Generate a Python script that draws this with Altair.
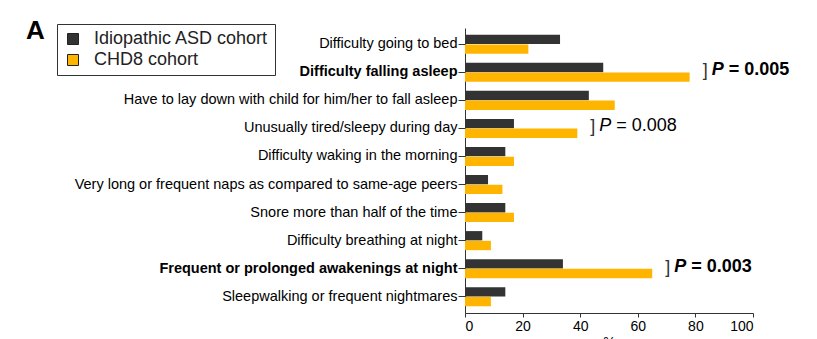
import altair as alt
import pandas as pd

categories = [
    "Difficulty going to bed",
    "Difficulty falling asleep",
    "Have to lay down with child for him/her to fall asleep",
    "Unusually tired/sleepy during day",
    "Difficulty waking in the morning",
    "Very long or frequent naps as compared to same-age peers",
    "Snore more than half of the time",
    "Difficulty breathing at night",
    "Frequent or prolonged awakenings at night",
    "Sleepwalking or frequent nightmares",
]
idiopathic = [33, 48, 43, 17, 14, 8, 14, 6, 34, 14]
chd8 = [22, 78, 52, 39, 17, 13, 17, 9, 65, 9]
cohorts = ["Idiopathic ASD cohort", "CHD8 cohort"]
colors = ["#333333", "#FFB400"]

bold_labels = ["Difficulty falling asleep", "Frequent or prolonged awakenings at night"]

ann_categories = ["Difficulty falling asleep", "Unusually tired/sleepy during day",
                  "Frequent or prolonged awakenings at night"]
ann_values = ["= 0.005", "= 0.008", "= 0.003"]
ann_bold = [True, False, True]

rows = []
for c, a, b in zip(categories, idiopathic, chd8):
    rows.append({"category": c, "cohort": cohorts[0], "value": a})
    rows.append({"category": c, "cohort": cohorts[1], "value": b})
df = pd.DataFrame(rows)

ann = pd.DataFrame({
    "category": ann_categories,
    "text": ann_values,
    "bold": ann_bold,
    "x": [chd8[categories.index(c)] for c in ann_categories],
})

FONT = "Liberation Sans"

yscale = alt.Scale(domain=categories, paddingInner=0.32, paddingOuter=0.24)
xscale = alt.Scale(domain=[0, 100])

bold_test = " || ".join("datum.value == '%s'" % b for b in bold_labels)

bars = alt.Chart(df).mark_bar().encode(
    y=alt.Y("category:N", scale=yscale, sort=categories,
            axis=alt.Axis(title=None, labelFontSize=14.5, labelFont=FONT, labelColor="black",
                          labelFontWeight={"condition": {"test": bold_test, "value": "bold"}, "value": "normal"},
                          tickSize=7, labelPadding=1, domainColor="#333333", tickColor="#333333",
                          labelLimit=500)),
    x=alt.X("value:Q", scale=xscale,
            axis=alt.Axis(title="%", values=[0, 20, 40, 60, 80, 100], labelFontSize=14,
                          labelFont=FONT, labelColor="black", tickSize=4, labelPadding=2,
                          domainColor="#333333", tickColor="#333333", grid=False,
                          titleFont=FONT, titleFontSize=14, titleFontWeight="normal",
                          titlePadding=2)),
    yOffset=alt.YOffset("cohort:N", sort=cohorts, scale=alt.Scale(paddingInner=0.04)),
    color=alt.Color("cohort:N", sort=cohorts, scale=alt.Scale(domain=cohorts, range=colors),
                    legend=alt.Legend(title=None, orient="none", legendX=-408, legendY=-4,
                                      labelFont=FONT, labelFontSize=18, labelColor="#222222",
                                      labelLimit=400,
                                      symbolType="square", symbolSize=121,
                                      symbolStrokeColor="#222222", symbolStrokeWidth=1,
                                      strokeColor="#333333", padding=6, rowPadding=3,
                                      labelOffset=12, symbolOffset=1)),
)

bracket = alt.Chart(ann).mark_text(align="left", baseline="middle", dx=13, dy=-1,
                                   fontSize=18, font=FONT, color="#333333",
                                   fontWeight=100).encode(
    y=alt.Y("category:N", scale=yscale, sort=categories),
    x=alt.X("x:Q", scale=xscale),
    text=alt.value("]"),
)


def p_layers(weight, flag):
    base = alt.Chart(ann).transform_filter("datum.bold == %s" % ("true" if flag else "false"))
    letter = base.mark_text(align="left", baseline="middle", dx=22, dy=-2, fontSize=18,
                            font=FONT, color="black", fontStyle="italic",
                            fontWeight=weight).encode(
        y=alt.Y("category:N", scale=yscale, sort=categories),
        x=alt.X("x:Q", scale=xscale),
        text=alt.value("P"),
    )
    value = base.mark_text(align="left", baseline="middle", dx=39, dy=-2, fontSize=18,
                           font=FONT, color="black", fontWeight=weight).encode(
        y=alt.Y("category:N", scale=yscale, sort=categories),
        x=alt.X("x:Q", scale=xscale),
        text="text:N",
    )
    return [letter, value]


panel = alt.Chart(pd.DataFrame({"t": ["A"]})).mark_text(
    align="left", baseline="middle", fontSize=26, fontWeight="bold", font=FONT, color="black"
).encode(x=alt.value(-439), y=alt.value(3), text="t:N")

chart = alt.layer(bars, bracket, *p_layers("bold", True), *p_layers("normal", False), panel).properties(
    width=288, height=285,
    autosize=alt.AutoSizeParams(type="none"),
    padding={"left": 465, "top": 28, "right": 64, "bottom": 26},
).configure(background="white").configure_view(stroke=None)

chart.save("out.html", embed_options={"renderer": "svg", "actions": False})
